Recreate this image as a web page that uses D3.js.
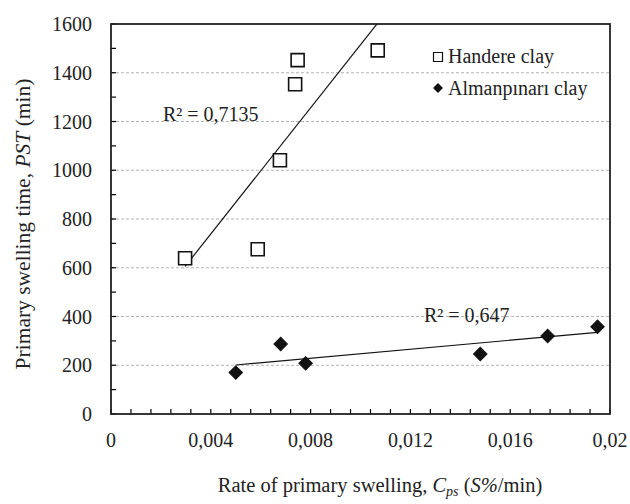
<!DOCTYPE html>
<html>
<head>
<meta charset="utf-8">
<script src="https://cdn.jsdelivr.net/npm/d3@7"></script>
<style>
  html, body { margin: 0; padding: 0; background: #fff; }
</style>
</head>
<body>
<svg id="chart" width="630" height="504"></svg>
<script>
// Handere clay: rate of primary swelling (S%/min) vs primary swelling time (min)
const handereRate = [0.00297, 0.00588, 0.00677, 0.00738, 0.00748, 0.01069];
const handereTime = [639, 676, 1041, 1353, 1452, 1492];
// Almanpınarı clay
const almanRate = [0.0050, 0.0068, 0.0078, 0.0148, 0.0175, 0.0195];
const almanTime = [170, 287, 208, 246, 320, 358];

const xTickValues = [0, 0.004, 0.008, 0.012, 0.016, 0.02];
const yTickValues = [0, 200, 400, 600, 800, 1000, 1200, 1400, 1600];
const seriesNames = ["Handere clay", "Almanpınarı clay"];
const r2Labels = ["R² = 0,7135", "R² = 0,647"];

const FONT = "Liberation Serif";
const INK = "#222";
const W = 630, H = 504;
const m = { left: 111, right: 20, top: 24, bottom: 90 };
const svg = d3.select("#chart");

const x = d3.scaleLinear().domain([0, 0.02]).range([m.left, W - m.right]);
const y = d3.scaleLinear().domain([0, 1600]).range([H - m.bottom, m.top]);

const fmt = v => String(+v.toFixed(4)).replace(".", ",");

// plain text helper: every label is a direct child of the svg
function label(tx, ty, str, opts = {}) {
  return svg.append("text")
    .attr("x", tx).attr("y", ty)
    .attr("font-family", FONT)
    .attr("font-size", opts.size || 20)
    .attr("text-anchor", opts.anchor || "start")
    .attr("fill", INK)
    .text(str);
}

// dashed horizontal gridlines
svg.append("g")
  .selectAll("line")
  .data(yTickValues.filter(v => v > 0 && v < 1600))
  .join("line")
  .attr("x1", x(0)).attr("x2", x(0.02))
  .attr("y1", d => y(d)).attr("y2", d => y(d))
  .attr("stroke", "#b4b4b4").attr("stroke-width", 1)
  .attr("stroke-dasharray", "3,2");

// inward minor ticks
const xMinor = d3.range(0, 26).map(i => i * 0.0008);
const yMinor = d3.range(0, 17).map(i => i * 100);

svg.append("g")
  .selectAll("line")
  .data(xMinor)
  .join("line")
  .attr("x1", d => x(d)).attr("x2", d => x(d))
  .attr("y1", y(0)).attr("y2", y(0) - 5)
  .attr("stroke", "#000").attr("stroke-width", 1.2);

svg.append("g")
  .selectAll("line")
  .data(yMinor)
  .join("line")
  .attr("x1", x(0)).attr("x2", x(0) + 5)
  .attr("y1", d => y(d)).attr("y2", d => y(d))
  .attr("stroke", "#000").attr("stroke-width", 1.2);

// tick labels
xTickValues.forEach(v => label(x(v), y(0) + 33, fmt(v), { anchor: "middle" }));
yTickValues.forEach(v => label(x(0) - 19, y(v) + 7, String(v), { anchor: "end" }));

// plot frame
svg.append("rect")
  .attr("x", x(0)).attr("y", y(1600))
  .attr("width", x(0.02) - x(0)).attr("height", y(0) - y(1600))
  .attr("fill", "none").attr("stroke", INK).attr("stroke-width", 1.8);

// clip for trendlines
svg.append("clipPath").attr("id", "plotclip")
  .append("rect")
  .attr("x", x(0)).attr("y", y(1600))
  .attr("width", x(0.02) - x(0)).attr("height", y(0) - y(1600));

// least-squares linear fit
function fit(xs, ys) {
  const mx = d3.mean(xs), my = d3.mean(ys);
  let sxy = 0, sxx = 0;
  xs.forEach((v, i) => { sxy += (v - mx) * (ys[i] - my); sxx += (v - mx) ** 2; });
  const b = sxy / sxx;
  return { slope: b, intercept: my - b * mx };
}

function trend(xs, ys) {
  const f = fit(xs, ys);
  const x0 = d3.min(xs), x1 = d3.max(xs);
  svg.append("line")
    .attr("clip-path", "url(#plotclip)")
    .attr("x1", x(x0)).attr("y1", y(f.intercept + f.slope * x0))
    .attr("x2", x(x1)).attr("y2", y(f.intercept + f.slope * x1))
    .attr("stroke", "#111").attr("stroke-width", 1.2);
}
trend(handereRate, handereTime);
trend(almanRate, almanTime);

const squareSym = d3.symbol().type(d3.symbolSquare).size(13 * 13);
const diamondSym = d3.symbol().type(d3.symbolSquare).size(9.5 * 9.5);

// Handere markers: open squares
svg.append("g")
  .selectAll("path")
  .data(handereRate.map((v, i) => [v, handereTime[i]]))
  .join("path")
  .attr("d", squareSym)
  .attr("transform", d => `translate(${x(d[0])},${y(d[1])})`)
  .attr("fill", "#fff").attr("stroke", "#111").attr("stroke-width", 1.6);

// Almanpınarı markers: filled diamonds
svg.append("g")
  .selectAll("path")
  .data(almanRate.map((v, i) => [v, almanTime[i]]))
  .join("path")
  .attr("d", diamondSym)
  .attr("transform", d => `translate(${x(d[0])},${y(d[1])}) rotate(45)`)
  .attr("fill", "#111").attr("stroke", "#111").attr("stroke-width", 1);

// R² annotations
label(163, 121, r2Labels[0]);
label(424, 322, r2Labels[1]);

// legend
svg.append("path")
  .attr("d", d3.symbol().type(d3.symbolSquare).size(9 * 9))
  .attr("transform", "translate(438,57)")
  .attr("fill", "#fff").attr("stroke", "#111").attr("stroke-width", 1.2);
label(448, 63, seriesNames[0]);
svg.append("path")
  .attr("d", d3.symbol().type(d3.symbolSquare).size(7 * 7))
  .attr("transform", "translate(438,88) rotate(45)")
  .attr("fill", "#111");
label(448, 95, seriesNames[1]);

// axis titles
const xt = label(380, 492, "", { anchor: "middle", size: 20.5 });
xt.append("tspan").text("Rate of primary swelling, ");
xt.append("tspan").attr("font-style", "italic").text("C");
xt.append("tspan").attr("font-style", "italic").attr("font-size", 14).attr("dy", 4).text("ps");
xt.append("tspan").attr("dy", -4).text(" (");
xt.append("tspan").attr("font-style", "italic").text("S%");
xt.append("tspan").text("/min)");

const yt = label(0, 0, "", { anchor: "middle", size: 21.5 })
  .attr("transform", "translate(30,224) rotate(-90)");
yt.append("tspan").text("Primary swelling time, ");
yt.append("tspan").attr("font-style", "italic").text("PST");
yt.append("tspan").text("  (min)");
</script>
</body>
</html>
